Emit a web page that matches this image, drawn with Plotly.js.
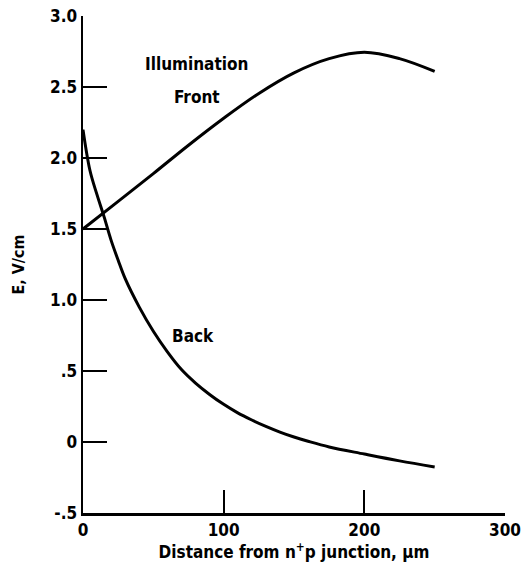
<!DOCTYPE html>
<html>
<head>
<meta charset="utf-8">
<script src="https://cdn.plot.ly/plotly-3.0.1.min.js"></script>
<style>html,body{margin:0;padding:0;background:#fff;}#chart{width:527px;height:571px;}</style>
</head>
<body>
<div id="chart"></div>
<script>
// Front illumination curve
const frontX = [0, 25, 50, 75, 100, 125, 150, 175, 200, 225, 250];
const frontY = [1.50, 1.695, 1.89, 2.09, 2.28, 2.455, 2.60, 2.70, 2.745, 2.70, 2.61];
// Back illumination curve
const backX = [0, 5, 10, 15, 20, 25, 30, 40, 50, 60, 70, 80, 90, 100, 110, 120, 130, 140, 150, 160, 175, 200, 225, 250];
const backY = [2.20, 1.91, 1.74, 1.585, 1.42, 1.28, 1.15, 0.95, 0.78, 0.635, 0.51, 0.415, 0.335, 0.265, 0.205, 0.155, 0.11, 0.07, 0.035, 0.005, -0.035, -0.085, -0.133, -0.176];
// Short horizontal segment at the start of the front curve
const markX = [0, 17];
const markY = [1.5, 1.5];
// Axis ticks
const xTicks = [0, 100, 200, 300];
const xTickText = ["0", "100", "200", "300"];
const yTicks = [-0.5, 0, 0.5, 1.0, 1.5, 2.0, 2.5, 3.0];
const yTickText = ["-.5", "0", ".5", "1.0", "1.5", "2.0", "2.5", "3.0"];
// Labels
const labels = [
  {text: "Illumination", x: 81, y: 2.66},
  {text: "Front", x: 81, y: 2.43},
  {text: "Back", x: 78, y: 0.75}
];

const FONT = "'DejaVu Sans Condensed', 'Liberation Sans Narrow', Arial, sans-serif";
const lineStyle = {color: "#000", width: 3};

const traces = [
  {x: frontX, y: frontY, mode: "lines", line: Object.assign({shape: "spline", smoothing: 1}, lineStyle), hoverinfo: "skip"},
  {x: backX, y: backY, mode: "lines", line: Object.assign({shape: "spline", smoothing: 1}, lineStyle), hoverinfo: "skip"},
  {x: markX, y: markY, mode: "lines", line: {color: "#000", width: 2}, hoverinfo: "skip"}
];

const layout = {
  width: 527, height: 571,
  margin: {l: 83, r: 22, t: 16, b: 58},
  paper_bgcolor: "#fff", plot_bgcolor: "#fff",
  showlegend: false,
  font: {family: FONT, color: "#000", size: 17},
  xaxis: {
    range: [0, 300], tickvals: xTicks, ticktext: xTickText,
    showline: true, linecolor: "#000", linewidth: 2.5,
    ticks: "inside", ticklen: 23, tickwidth: 2, tickcolor: "#000",
    showgrid: false, zeroline: false,
    tickfont: {family: FONT, size: 17, color: "#000", weight: "bold"},
    title: {text: "Distance from n<sup>+</sup>p junction, µm", font: {family: FONT, size: 17, color: "#000", weight: "bold"}, standoff: 7}
  },
  yaxis: {
    range: [-0.5, 3.0], tickvals: yTicks, ticktext: yTickText,
    showline: true, linecolor: "#000", linewidth: 2.5,
    ticks: "inside", ticklen: 24, tickwidth: 2, tickcolor: "#000",
    showgrid: false, zeroline: false,
    tickfont: {family: FONT, size: 17, color: "#000", weight: "bold"},
    title: {text: "E, V/cm", font: {family: FONT, size: 16, color: "#000", weight: "bold"}, standoff: 22}
  },
  annotations: labels.map(l => ({
    x: l.x, y: l.y, xref: "x", yref: "y", text: l.text, showarrow: false,
    font: {family: FONT, size: 17, color: "#000", weight: "bold"}
  }))
};

Plotly.newPlot("chart", traces, layout, {staticPlot: true});
</script>
</body>
</html>
